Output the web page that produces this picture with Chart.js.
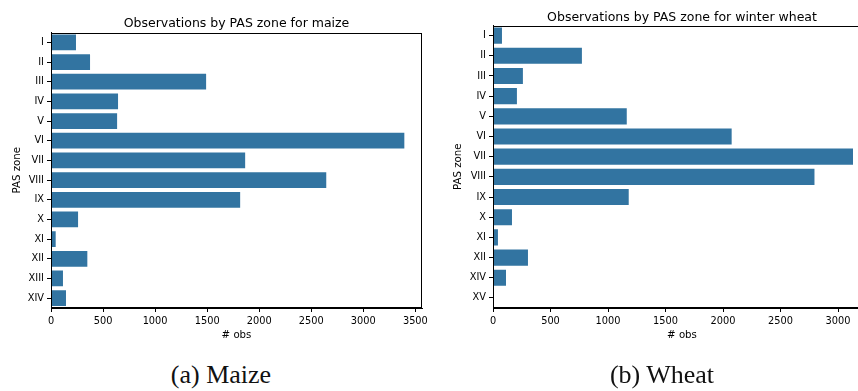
<!DOCTYPE html>
<html>
<head>
<meta charset="utf-8">
<script src="https://cdn.jsdelivr.net/npm/chart.js@4/dist/chart.umd.min.js"></script>
<style>
  html, body { margin: 0; padding: 0; background: #fff; overflow: hidden; }
  body { width: 858px; height: 391px; position: relative; }
  .panel { position: absolute; top: 0; }
  .caption {
    position: absolute; top: 360px; width: 300px; text-align: center;
    font-family: "Liberation Serif", serif; font-size: 26px; color: #111;
    line-height: 30px;
  }
</style>
</head>
<body>
<div class="panel" style="left:0px; width:473px; height:345px;"><canvas id="maize"></canvas></div>
<div class="panel" style="left:440px; width:484px; height:345px;"><canvas id="wheat"></canvas></div>
<div class="caption" style="left:71px;">(a) Maize</div>
<div class="caption" style="left:512px;">(b) Wheat</div>
<script>
// PAS zones and observation counts per crop
const maizeZones = ['I', 'II', 'III', 'IV', 'V', 'VI', 'VII', 'VIII', 'IX', 'X', 'XI', 'XII', 'XIII', 'XIV'];
const maizeObs = [240, 375, 1490, 644, 635, 3394, 1865, 2644, 1817, 260, 45, 349, 115, 144];

const wheatZones = ['I', 'II', 'III', 'IV', 'V', 'VI', 'VII', 'VIII', 'IX', 'X', 'XI', 'XII', 'XIV', 'XV'];
const wheatObs = [78, 773, 260, 208, 1163, 2075, 3130, 2795, 1180, 165, 43, 304, 113, 2];

const obsTicks = [0, 500, 1000, 1500, 2000, 2500, 3000, 3500];

const BAR = '#3274a1';
const INK = '#000';
const FONT = "'DejaVu Sans', sans-serif";

// outline of the whole plotting area (matplotlib-style spines)
const frame = {
  id: 'frame',
  afterDraw(chart) {
    const { ctx, chartArea: a } = chart;
    ctx.save();
    ctx.strokeStyle = '#000';
    ctx.lineWidth = 1;
    const l = Math.round(a.left) + 0.5, r = Math.round(a.right) - 0.5;
    const t = Math.round(a.top) + 0.5, b = Math.round(a.bottom) - 0.5;
    ctx.strokeRect(l, t, r - l, b - t);
    ctx.restore();
  }
};

function makeChart(id, title, zones, obs, cfg) {
  const xMax = Math.max(...obs) * 1.05;
  return new Chart(document.getElementById(id), {
    type: 'bar',
    data: {
      labels: zones,
      datasets: [{ data: obs, backgroundColor: BAR, borderWidth: 0,
                   barPercentage: 0.8, categoryPercentage: 1.0 }]
    },
    options: {
      indexAxis: 'y',
      responsive: true,
      maintainAspectRatio: false,
      animation: false,
      layout: { padding: { left: 0, right: cfg.padRight, top: 0, bottom: 0 } },
      plugins: {
        legend: { display: false },
        tooltip: { enabled: false },
        title: {
          display: true, fullSize: false, text: title, color: INK,
          font: { family: FONT, size: 12.5, weight: 'normal' },
          padding: { top: cfg.titleTop, bottom: cfg.titleBottom }
        }
      },
      scales: {
        x: {
          type: 'linear', min: 0, max: xMax,
          afterBuildTicks: s => { s.ticks = obsTicks.filter(v => v <= xMax).map(v => ({ value: v })); },
          afterFit: s => { s.height = 37; },
          grid: { drawOnChartArea: false, drawTicks: true, tickLength: 4, color: '#000', lineWidth: 1 },
          border: { display: true, color: '#000', width: 1 },
          ticks: { color: INK, padding: 4, maxRotation: 0, autoSkip: false,
                   callback: v => String(v),
                   font: { family: FONT, size: 9.8 } },
          title: { display: true, text: '# obs', color: INK,
                   font: { family: FONT, size: 10.2 }, padding: { top: 0, bottom: 3.5 } }
        },
        y: {
          type: 'category', offset: true,
          afterFit: s => { s.width = cfg.yWidth; },
          grid: { offset: false, drawOnChartArea: false, drawTicks: true, tickLength: 4, color: '#000', lineWidth: 1 },
          border: { display: true, color: '#000', width: 1 },
          ticks: { color: INK, padding: 3, autoSkip: false,
                   font: { family: FONT, size: 9.8 } },
          title: { display: true, text: 'PAS zone', color: INK,
                   font: { family: FONT, size: 10.2 }, padding: { top: cfg.yTitlePad, bottom: 0 } }
        }
      }
    },
    plugins: [frame]
  });
}

makeChart('maize', 'Observations by PAS zone for maize', maizeZones, maizeObs,
  { padRight: 51, yWidth: 51, titleTop: 16.5, titleBottom: 1, yTitlePad: 11.5 });
makeChart('wheat', 'Observations by PAS zone for winter wheat', wheatZones, wheatObs,
  { padRight: 53, yWidth: 53, titleTop: 10.5, titleBottom: 0, yTitlePad: 12.5 });
</script>
</body>
</html>
